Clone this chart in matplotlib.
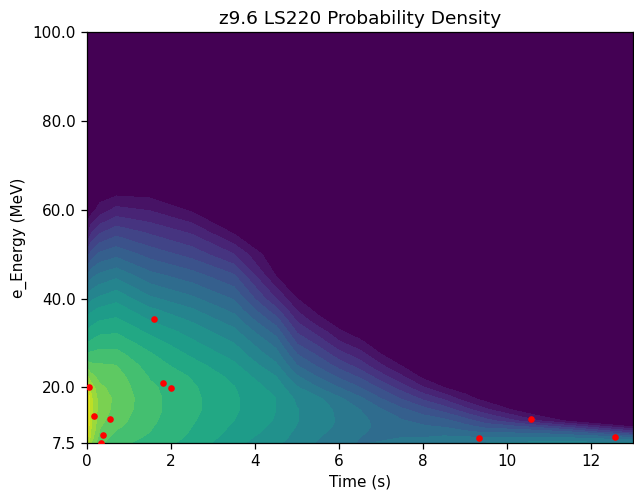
import numpy as np
import matplotlib
matplotlib.use("Agg")
import matplotlib.pyplot as plt

times = [0, 0.1, 0.3, 0.7, 1.5, 2.5, 3.5, 4.5, 5, 5.5, 6, 6.5, 7, 7.5, 8, 8.5, 9, 9.5, 10.5, 11.5, 13]
energies = [7.5, 8.75, 10, 11.25, 12.5, 15, 17.5, 20, 22.5, 25, 27.5, 30, 32.5, 35, 37.5, 40,
            45, 50, 55, 60, 65, 70, 100]

# one list per time: density (in contour-band units) at each energy, from 7.5 MeV upwards;
# energies beyond the end of a list have zero density
d_00 = [18.6, 19.4, 19.7, 19.9, 19.95, 19.98, 19.98, 19.6, 17.2, 15.5, 14.2, 13, 12.1, 11.3, 10.4, 9.3, 7, 4.5, 1.5, .3]
d_01 = [17.0, 17.5, 17.8, 18.0, 18.1, 18.2, 18.2, 17.6, 16.3, 15.2, 14.2, 13.2, 12.4, 11.6, 10.8, 9.8, 7.8, 5.4, 2.8, .5]
d_03 = [15.2, 15.6, 15.9, 16.1, 16.3, 16.5, 16.5, 16.2, 15.7, 15.1, 14.4, 13.5, 12.8, 12, 11.2, 10.2, 8.3, 6.2, 3.8, 1.4, .1]
d_07 = [14.3, 14.6, 14.9, 15.2, 15.4, 15.7, 15.8, 15.6, 15.4, 15, 14.3, 13.6, 12.9, 12.2, 11.5, 10.7, 8.8, 6.7, 4.6, 2.3, .2]
d_15 = [13.6, 13.8, 14, 14.1, 14.2, 14.3, 14.3, 14.2, 13.9, 13.5, 13.1, 12.5, 11.8, 11, 10.2, 9.2, 7.4, 5.6, 3.8, 1.9, .2]
d_25 = [12.6, 12.8, 12.9, 13, 13.1, 13.25, 13.25, 13.15, 12.9, 12.4, 11.8, 11.2, 10.6, 9.9, 9.1, 8.2, 6.5, 4.6, 2.8, .8]
d_35 = [11.3, 11.5, 11.7, 11.85, 12, 12.15, 12.15, 12.05, 11.7, 11.2, 10.6, 10, 9.3, 8.5, 7.7, 6.9, 5.2, 3, .8]
d_45 = [10.2, 10.4, 10.6, 10.75, 10.9, 11, 11, 10.6, 10, 9.2, 8.4, 7.6, 6.6, 5.5, 4.3, 3, 1]
d_50 = [9.5, 9.7, 9.8, 9.95, 10.05, 10.05, 9.8, 9.1, 8.1, 7, 6, 4.9, 3.9, 2.9, 1.9, 1]
d_55 = [8.9, 9.05, 9.2, 9.3, 9.4, 9.45, 9.2, 8, 6.9, 5.8, 4.8, 3.7, 2.6, 1.4, .6]
d_60 = [8.4, 8.6, 8.7, 8.85, 8.9, 8.8, 8.2, 7, 5.8, 4.6, 3.4, 2.2, 1.2, .4]
d_65 = [7.9, 8, 8.1, 8.2, 8.25, 8, 7.2, 6, 4.8, 3.5, 2.4, 1.3, .4]
d_70 = [8.1, 7.8, 7.8, 7.8, 7.7, 7.1, 6, 4.8, 3.4, 2.1, 1, .2]
d_75 = [8.5, 8, 7.6, 7.4, 7.1, 6.2, 4.9, 3.5, 2.1, .9, .1]
d_80 = [8.8, 8, 7.5, 7.1, 6.7, 5.4, 3.8, 2.1, .7]
d_85 = [8.9, 8.2, 7.5, 6.9, 6.3, 4.6, 2.8, 1, .2]
d_90 = [9, 8.1, 7.2, 6.3, 5.5, 3.4, 1.5, .3]
d_95 = [9, 8, 6.8, 5.6, 4.4, 2.2, .5]
d_105 = [9.2, 8.1, 6.7, 4.8, 2.5, .2]
d_115 = [9.3, 7.9, 6, 3.4, .7]
d_130 = [9.2, 7, 3.5, .8, .1]

columns = [d_00, d_01, d_03, d_07, d_15, d_25, d_35, d_45, d_50, d_55, d_60, d_65, d_70, d_75,
           d_80, d_85, d_90, d_95, d_105, d_115, d_130]

event_t = [0.04, 0.17, 0.55, 0.37, 0.33, 1.6, 1.8, 2.0, 9.33, 10.57, 12.57]
event_e = [20.0, 13.5, 12.9, 9.3, 7.5, 35.3, 21.0, 19.8, 8.6, 13.0, 8.8]

y_ticks = [7.5, 20, 40, 60, 80, 100]
y_labels = ["7.5", "20.0", "40.0", "60.0", "80.0", "100.0"]
x_ticks = [0, 2, 4, 6, 8, 10, 12]

density = np.zeros((len(energies), len(times)))
for j, col in enumerate(columns):
    density[:len(col), j] = col

fig = plt.figure(figsize=(6.34, 4.9), dpi=100)
ax = fig.add_axes([87 / 634, 1 - 443 / 490, 546 / 634, 411 / 490])
ax.contourf(times, energies, density, levels=np.arange(0, 21), cmap="viridis", vmin=0.5, vmax=20.5)
ax.scatter(event_t, event_e, s=14, color="red", zorder=3, clip_on=True)
ax.set_xlim(0, 13)
ax.set_ylim(7.5, 100)
ax.set_xticks(x_ticks)
ax.set_yticks(y_ticks)
ax.set_yticklabels(y_labels)
ax.tick_params(labelsize=11, length=4.4, width=0.9)
ax.set_xlabel("Time (s)", fontsize=11)
ax.set_ylabel("e_Energy (MeV)", fontsize=11)
ax.set_title("z9.6 LS220 Probability Density", fontsize=13.3)
for s in ax.spines.values():
    s.set_linewidth(0.9)
fig.savefig("out.png", dpi=100)
